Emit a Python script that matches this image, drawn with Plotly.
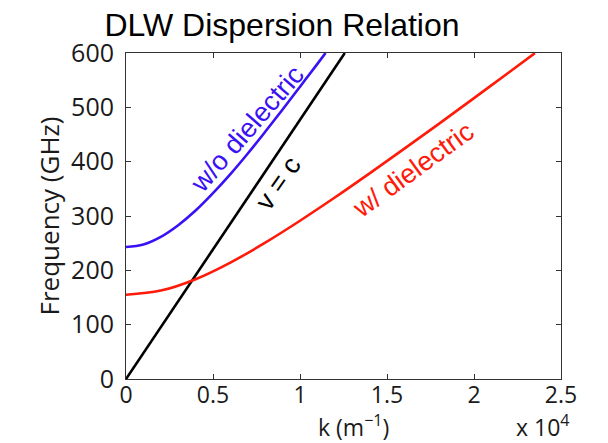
import plotly.graph_objects as go

# Wavenumber k in units of 1e4 m^-1, frequency in GHz
k_light = [0.0, 1.2575]
f_light = [0.0, 600.0]

k_vac = [0.0, 0.1, 0.2, 0.3, 0.4, 0.5, 0.6, 0.7, 0.8, 0.9, 1.0, 1.1, 1.147]
f_vac = [243, 247.5, 261.5, 283, 310, 342, 377, 415, 455, 496, 538, 580, 600]

k_diel = [0.0, 0.2, 0.4, 0.6, 0.8, 1.0, 1.2, 1.4, 1.6, 1.8, 2.0, 2.2, 2.35]
f_diel = [155, 162.7, 183.7, 214.3, 250.9, 291.3, 334.0, 378.4, 423.9, 470.1, 516.9, 564.1, 599.8]

x_ticks = [0, 0.5, 1, 1.5, 2, 2.5]
x_tick_text = ["0", "0.5", "1", "1.5", "2", "2.5"]
y_ticks = [0, 100, 200, 300, 400, 500, 600]

BLUE = "#3a10f5"
RED = "#ff1a0a"
TEXT = "#1a1a1a"

fig = go.Figure()
fig.add_trace(go.Scatter(x=k_vac, y=f_vac, mode="lines", line=dict(color=BLUE, width=2.6, shape="spline"),
                         showlegend=False))
fig.add_trace(go.Scatter(x=k_light, y=f_light, mode="lines", line=dict(color="black", width=2.6),
                         showlegend=False))
fig.add_trace(go.Scatter(x=k_diel, y=f_diel, mode="lines", line=dict(color=RED, width=2.6, shape="spline"),
                         showlegend=False))

axis_common = dict(
    showline=True, linecolor="#333333", linewidth=1, mirror="ticks",
    ticks="inside", ticklen=5, tickcolor="#333333", tickwidth=1,
    showgrid=False, zeroline=False,
)
fig.update_xaxes(range=[0, 2.5], tickvals=x_ticks, ticktext=x_tick_text, ticklabelstandoff=-5,
                 tickfont=dict(family="Open Sans", size=23, color=TEXT), **axis_common)
fig.update_yaxes(range=[0, 600], tickvals=y_ticks, ticklabelstandoff=6,
                 tickfont=dict(family="Open Sans", size=25, color=TEXT),
                 title=dict(text="Frequency (GHz)", font=dict(family="Open Sans", size=26, color=TEXT),
                            standoff=4),
                 **axis_common)

bottom_labels = [
    dict(text="k (m<sup>−1</sup>)", x=353, y=426),
    dict(text="x 10<sup>4</sup>", x=543, y=426),
]
ann = []
for a in bottom_labels:
    ann.append(dict(text=a["text"], xref="paper", yref="paper",
                    x=(a["x"] - 126) / 435, y=(379 - a["y"]) / 326,
                    xanchor="center", yanchor="middle", showarrow=False, borderpad=0,
                    font=dict(family="Open Sans", size=23, color=TEXT)))

# curve labels, rotated along each curve
ann.append(dict(text="w/o dielectric", x=0.694, y=461, xref="x", yref="y", textangle=-49,
                showarrow=False, font=dict(family="Liberation Sans", size=27, color=BLUE)))
ann.append(dict(text="v = c", x=0.874, y=361, xref="x", yref="y", textangle=-55,
                showarrow=False, font=dict(family="Liberation Sans", size=27, color="black")))
ann.append(dict(text="w/ dielectric", x=1.649, y=385, xref="x", yref="y", textangle=-36,
                showarrow=False, font=dict(family="Liberation Sans", size=27, color=RED)))

fig.update_layout(
    width=608, height=443,
    margin=dict(l=126, r=47, t=53, b=64),
    paper_bgcolor="white", plot_bgcolor="white",
    title=dict(text="DLW Dispersion Relation", x=282 / 608, xanchor="center",
               y=1 - 25 / 443, yanchor="middle", xref="container", yref="container",
               font=dict(family="Liberation Sans", size=32, color="black")),
    annotations=ann,
)

fig.write_html("out.html")
